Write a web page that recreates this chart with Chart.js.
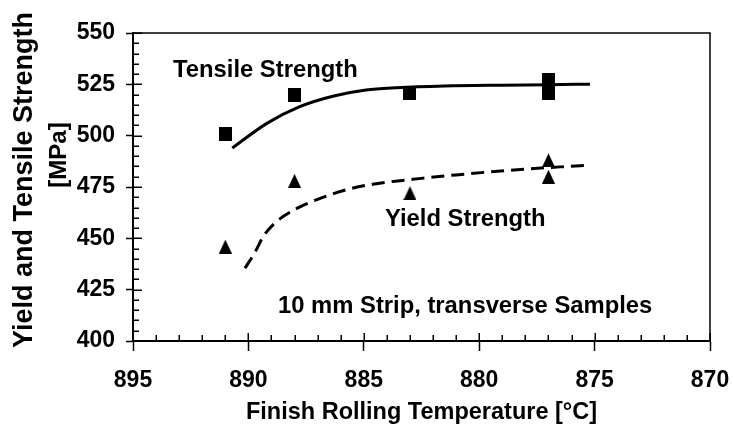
<!DOCTYPE html>
<html><head><meta charset="utf-8">
<script src="https://cdn.jsdelivr.net/npm/chart.js@4.4.1/dist/chart.umd.min.js"></script>
<style>html,body{margin:0;padding:0;background:#fff;} canvas{display:block;}</style>
</head><body>
<canvas id="c" width="733" height="437"></canvas>
<script>
// ---- data ----
const tensileTemps  = [891, 888, 883, 877, 877];
const tensileValues = [501, 520, 521, 527, 521];
const yieldTemps    = [891, 888, 883, 877, 877];
const yieldValues   = [446, 478, 472, 488, 480];
const tensileFitTemps  = [890.7, 889.2, 887.8, 886.3, 884.9, 883.6, 881.5, 879, 877, 875.2];
const tensileFitValues = [494, 506, 514, 519.3, 522.2, 523.3, 524.2, 524.6, 524.8, 525.1];
const yieldFitTemps  = [890.15, 889.7, 889.35, 888.85, 888.0, 887.0, 885.5, 884.0, 882.5, 881.0, 878.5, 876.5, 875.2];
const yieldFitValues = [435.4, 443.5, 451, 457.5, 464, 469, 474.4, 477.3, 479.2, 480.9, 483.3, 484.8, 485.6];
const xTicks = [895, 890, 885, 880, 875, 870];
const yTicks = [400, 425, 450, 475, 500, 525, 550];
const xTitle = 'Finish Rolling Temperature [°C]';
const yTitle = ['Yield and Tensile Strength', '[MPa]'];
const seriesLabels = ['Tensile Strength', 'Yield Strength'];
const noteText = '10 mm Strip, transverse Samples';

const FONT = '"Liberation Sans", Arial, Helvetica, sans-serif';
Chart.defaults.font.family = FONT;
Chart.defaults.color = '#000';

function pts(xs, ys) { return xs.map((x, i) => ({x: x, y: ys[i]})); }

// marker images
function makeSquare() {
  const c = document.createElement('canvas'); c.width = 13; c.height = 14;
  const g = c.getContext('2d'); g.fillStyle = '#000'; g.fillRect(0, 0, 13, 14); return c;
}
function makeTriangle() {
  const c = document.createElement('canvas'); c.width = 13; c.height = 14;
  const g = c.getContext('2d'); g.fillStyle = '#000';
  g.beginPath(); g.moveTo(6.5, 0); g.lineTo(13, 14); g.lineTo(0, 14); g.closePath(); g.fill(); return c;
}
const squareImg = makeSquare();
const triImg = makeTriangle();

const decor = {
  id: 'decor',
  afterDraw(chart) {
    const {ctx, chartArea: a, scales: {x, y}} = chart;
    ctx.save();
    ctx.strokeStyle = '#000';
    ctx.lineWidth = 1.5;
    ctx.beginPath();
    ctx.moveTo(a.left, a.top); ctx.lineTo(a.right, a.top); ctx.lineTo(a.right, a.bottom);
    ctx.stroke();
    ctx.lineWidth = 1.5;
    for (let v = 870; v <= 895; v++) {
      const px = Math.round(x.getPixelForValue(v)) + 0.25;
      const major = v % 5 === 0;
      ctx.beginPath(); ctx.moveTo(px, a.bottom); ctx.lineTo(px, a.bottom - (major ? 8 : 6)); ctx.stroke();
    }
    for (let v = 400; v <= 550; v += 5) {
      const py = Math.round(y.getPixelForValue(v)) + 0.25;
      const major = v % 25 === 0;
      ctx.beginPath(); ctx.moveTo(a.left, py); ctx.lineTo(a.left + (major ? 9 : 6), py); ctx.stroke();
    }
    ctx.fillStyle = '#000';
    ctx.textBaseline = 'alphabetic';
    ctx.textAlign = 'left';
    ctx.font = 'bold 23.8px ' + FONT;
    ctx.fillText(seriesLabels[0], 173, 77);
    ctx.fillText(seriesLabels[1], 385, 226);
    ctx.fillText(noteText, 278, 313);
    // y title
    ctx.textAlign = 'center';
    ctx.save();
    ctx.translate(32, 180); ctx.rotate(-Math.PI / 2);
    ctx.font = 'bold 27px ' + FONT;
    ctx.fillText(yTitle[0], 0, 0);
    ctx.restore();
    ctx.save();
    ctx.translate(66, 155); ctx.rotate(-Math.PI / 2);
    ctx.font = 'bold 24px ' + FONT;
    ctx.fillText(yTitle[1], 0, 0);
    ctx.restore();
    ctx.restore();
  }
};

new Chart(document.getElementById('c'), {
  type: 'scatter',
  data: {
    datasets: [
      { label: 'Tensile fit', data: pts(tensileFitTemps, tensileFitValues), showLine: true,
        borderColor: '#000', borderWidth: 3, pointRadius: 0, cubicInterpolationMode: 'monotone', fill: false },
      { label: 'Yield fit', data: pts(yieldFitTemps, yieldFitValues), showLine: true,
        borderColor: '#000', borderWidth: 3, borderDash: [13, 7], pointRadius: 0, cubicInterpolationMode: 'monotone', fill: false },
      { label: seriesLabels[0], data: pts(tensileTemps, tensileValues), pointStyle: squareImg, pointRadius: 7,
        backgroundColor: '#000', borderColor: '#000' },
      { label: seriesLabels[1], data: pts(yieldTemps, yieldValues), pointStyle: triImg, pointRadius: 7,
        backgroundColor: '#000', borderColor: '#000' }
    ]
  },
  options: {
    responsive: false,
    animation: false,
    devicePixelRatio: 1,
    layout: { padding: { left: 0, top: 33, right: 23, bottom: 0 } },
    plugins: { legend: { display: false }, tooltip: { enabled: false } },
    scales: {
      x: {
        type: 'linear', min: 870, max: 895, reverse: true,
        afterBuildTicks: s => { s.ticks = xTicks.map(v => ({value: v})); },
        afterFit: s => { s.height = 96; s.paddingLeft = 0; s.paddingRight = 0; },
        grid: { display: true, drawOnChartArea: false, drawTicks: true, tickLength: 10, tickColor: '#000', tickWidth: 1.5 },
        border: { display: true, color: '#000', width: 2 },
        ticks: { font: { size: 23, weight: 'bold' }, color: '#000', padding: 16, maxRotation: 0 },
        title: { display: true, text: xTitle, color: '#000', font: { size: 23.5, weight: 'bold' }, padding: { top: 0, bottom: 10 } }
      },
      y: {
        type: 'linear', min: 400, max: 550,
        afterBuildTicks: s => { s.ticks = yTicks.map(v => ({value: v})); },
        afterFit: s => { s.width = 133; s.paddingTop = 0; s.paddingBottom = 0; },
        grid: { display: true, drawOnChartArea: false, drawTicks: true, tickLength: 7, tickColor: '#000', tickWidth: 1.5 },
        border: { display: true, color: '#000', width: 2 },
        ticks: { font: { size: 23, weight: 'bold' }, color: '#000', padding: 11 },
        title: { display: false }
      }
    }
  },
  plugins: [decor]
});
</script>
</body></html>
